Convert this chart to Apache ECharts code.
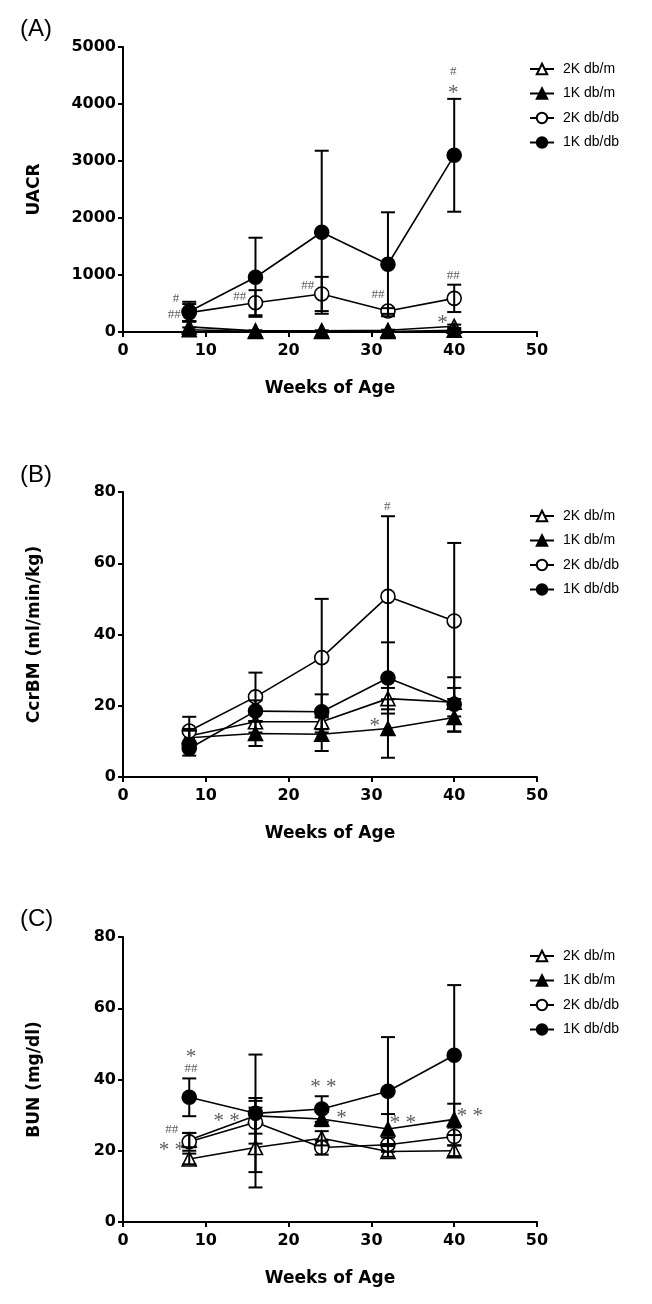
<!DOCTYPE html>
<html><head><meta charset="utf-8">
<script src="https://cdn.jsdelivr.net/npm/echarts@6/dist/echarts.min.js"></script>
<style>html,body{margin:0;padding:0;background:#fff}#c{width:652px;height:1304px}</style>
</head><body><div id="c"></div>
<script>
// ---------- data ----------
const weeks = [8, 16, 24, 32, 40];
const groupNames = ['2K db/m', '1K db/m', '2K db/db', '1K db/db'];
const xTicks = [0, 10, 20, 30, 40, 50];

// (A) UACR
const uacr_2Kdbm = [90, 20, 20, 30, 100];
const uacr_2Kdbm_sd = [90, 10, 10, 10, 30];
const uacr_1Kdbm = [40, 10, 10, 10, 30];
const uacr_1Kdbm_sd = [40, 5, 5, 5, 10];
const uacr_2Kdbdb = [340, 514, 667, 368, 590];
const uacr_2Kdbdb_sd = [150, 220, 300, 50, 240];
const uacr_1Kdbdb = [360, 960, 1750, 1188, 3100];
const uacr_1Kdbdb_sd = [170, 694, 1430, 912, 990];
const uacrTicks = [0, 1000, 2000, 3000, 4000, 5000];

// (B) CcrBM
const ccr_2Kdbm = [11.5, 15.5, 15.5, 22, 21];
const ccr_2Kdbm_sd = [2, 3, 3, 3, 4];
const ccr_1Kdbm = [11, 12.2, 12.0, 13.6, 16.7];
const ccr_1Kdbm_sd = [2, 3.5, 4.7, 8.2, 4];
const ccr_2Kdbdb = [12.9, 22.5, 33.5, 50.7, 43.8];
const ccr_2Kdbdb_sd = [4, 6.8, 16.5, 22.5, 21.9];
const ccr_1Kdbdb = [8.0, 18.5, 18.3, 27.8, 20.4];
const ccr_1Kdbdb_sd = [2, 3, 4.9, 10, 7.6];
const ccrTicks = [0, 20, 40, 60, 80];

// (C) BUN
const bun_2Kdbm = [17.7, 20.9, 23.5, 19.8, 20.0];
const bun_2Kdbm_sd = [1.5, 11.2, 2, 1.5, 1.5];
const bun_1Kdbm = [23, 29.8, 28.9, 26.1, 28.8];
const bun_1Kdbm_sd = [2, 5, 2, 4.2, 4.4];
const bun_2Kdbdb = [22.5, 28, 20.9, 21.7, 24.0];
const bun_2Kdbdb_sd = [2.5, 6, 2, 2, 2.5];
const bun_1Kdbdb = [35.0, 30.5, 31.7, 36.7, 46.8];
const bun_1Kdbdb_sd = [5.3, 16.5, 3.6, 15.2, 19.7];
const bunTicks = [0, 20, 40, 60, 80];

// significance marks: [x, y, text]
const annA = [[6.4, 579, '#'], [6.2, 298, '##'], [14.1, 614, '##'], [22.3, 807, '##'],
  [30.8, 649, '##'], [39.9, 982, '##'], [39.9, 4246, '*'], [39.9, 4561, '#'], [38.6, 211, '*']];
const annB = [[30.4, 15.4, '*'], [31.9, 75.9, '#']];
const annC = [[8.2, 47.3, '*'], [8.2, 43.2, '##'], [5.9, 25.9, '##'], [5.9, 21.2, '**'],
  [12.5, 29.4, '**'], [24.2, 38.8, '**'], [26.4, 30.1, '*'], [33.8, 28.9, '**'], [41.9, 30.8, '**']];

const panelLabels = ['(A)', '(B)', '(C)'];
const yTitles = ['UACR', 'CcrBM (ml/min/kg)', 'BUN (mg/dl)'];
const xTitle = 'Weeks of Age';

// ---------- chart ----------
const panels = [
  {vals: [uacr_2Kdbm, uacr_1Kdbm, uacr_2Kdbdb, uacr_1Kdbdb], sds: [uacr_2Kdbm_sd, uacr_1Kdbm_sd, uacr_2Kdbdb_sd, uacr_1Kdbdb_sd], ticks: uacrTicks, ann: annA},
  {vals: [ccr_2Kdbm, ccr_1Kdbm, ccr_2Kdbdb, ccr_1Kdbdb], sds: [ccr_2Kdbm_sd, ccr_1Kdbm_sd, ccr_2Kdbdb_sd, ccr_1Kdbdb_sd], ticks: ccrTicks, ann: annB},
  {vals: [bun_2Kdbm, bun_1Kdbm, bun_2Kdbdb, bun_1Kdbdb], sds: [bun_2Kdbm_sd, bun_1Kdbm_sd, bun_2Kdbdb_sd, bun_1Kdbdb_sd], ticks: bunTicks, ann: annC}
];
const gridTops = [47, 492, 937];
const gridH = 285;
const legendTops = [57, 504, 944];
const labelTops = [12, 458, 902];
const symbols = ['triangle', 'triangle', 'circle', 'circle'];
const fills = ['#fff', '#000', '#fff', '#000'];

const axisFont = {fontFamily: 'DejaVu Sans', fontWeight: 'bold', fontSize: 16, color: '#000'};
const axisLineStyle = {lineStyle: {color: '#000', width: 2}};

const option = {
  animation: false,
  backgroundColor: '#fff',
  title: panelLabels.map((t, i) => ({text: t, left: 15, top: labelTops[i],
    textStyle: {fontFamily: 'Liberation Sans', fontWeight: 'normal', fontSize: 24, color: '#000'}})),
  legend: gridTops.map((g, i) => ({
    data: groupNames, orient: 'vertical', left: 524, top: legendTops[i],
    itemWidth: 24, itemHeight: 13, itemGap: 10.5,
    textStyle: {fontFamily: 'Liberation Sans', fontSize: 14, color: '#000', padding: [0, 0, 0, 4]}
  })),
  grid: gridTops.map(t => ({left: 123, top: t, width: 414, height: gridH})),
  xAxis: gridTops.map((t, i) => ({
    type: 'value', gridIndex: i, min: xTicks[0], max: xTicks[xTicks.length - 1], interval: 10,
    axisLine: axisLineStyle, axisTick: {show: true, length: 5, lineStyle: {width: 2, color: '#000'}},
    axisLabel: Object.assign({margin: 11, formatter: v => String(v)}, axisFont), splitLine: {show: false},
    name: xTitle, nameLocation: 'middle', nameGap: 48,
    nameTextStyle: {fontFamily: 'DejaVu Sans', fontWeight: 'bold', fontSize: 17, color: '#000'}
  })),
  yAxis: panels.map((p, i) => ({
    type: 'value', gridIndex: i, min: p.ticks[0], max: p.ticks[p.ticks.length - 1],
    interval: p.ticks[1] - p.ticks[0],
    axisLine: Object.assign({show: true}, axisLineStyle), axisTick: {show: true, length: 5, lineStyle: {width: 2, color: '#000'}},
    axisLabel: Object.assign({margin: 7, formatter: v => String(v)}, axisFont), splitLine: {show: false},
    name: yTitles[i], nameLocation: 'middle', nameRotate: 90, nameGap: 80,
    nameTextStyle: {fontFamily: 'DejaVu Sans', fontWeight: 'bold', fontSize: 17, color: '#000'}
  })),
  series: []
};

panels.forEach((p, pi) => {
  // error bars
  const errData = [];
  p.vals.forEach((v, gi) => v.forEach((y, k) => errData.push([weeks[k], y - p.sds[gi][k], y + p.sds[gi][k]])));
  option.series.push({
    type: 'custom', xAxisIndex: pi, yAxisIndex: pi, z: 5, silent: true,
    data: errData,
    renderItem: (params, api) => {
      const x = api.value(0);
      const lo = api.coord([x, Math.max(api.value(1), 0)]);
      const hi = api.coord([x, api.value(2)]);
      const w = 7;
      const st = {stroke: '#000', lineWidth: 2};
      return {type: 'group', children: [
        {type: 'line', shape: {x1: lo[0], y1: lo[1], x2: hi[0], y2: hi[1]}, style: st},
        {type: 'line', shape: {x1: hi[0] - w, y1: hi[1], x2: hi[0] + w, y2: hi[1]}, style: st},
        {type: 'line', shape: {x1: lo[0] - w, y1: lo[1], x2: lo[0] + w, y2: lo[1]}, style: st}
      ]};
    }
  });
  p.vals.forEach((v, gi) => {
    option.series.push({
      type: 'line', name: groupNames[gi], xAxisIndex: pi, yAxisIndex: pi, z: 3 + gi * 0.1,
      data: v.map((y, k) => [weeks[k], y]),
      symbol: symbols[gi], symbolSize: 14,
      lineStyle: {color: '#000', width: 1.6},
      itemStyle: {color: fills[gi], borderColor: '#000', borderWidth: 1.6},
      emphasis: {disabled: true}
    });
  });
  option.series.push({
    type: 'scatter', xAxisIndex: pi, yAxisIndex: pi, z: 8, silent: true,
    symbol: 'circle', symbolSize: 1, itemStyle: {color: 'rgba(0,0,0,0)'},
    data: p.ann.map(a => {
      const star = a[2].indexOf('*') >= 0;
      return {
        value: [a[0], a[1]],
        label: {
          show: true, position: 'inside', formatter: star ? a[2].split('').join(' ') : a[2],
          fontFamily: 'Liberation Serif', color: '#333',
          fontSize: star ? 21 : 13,
          offset: star ? [0, 4] : [0, 0]
        }
      };
    })
  });
});

const chart = echarts.init(document.getElementById('c'), null, {renderer: 'canvas'});
chart.setOption(option);
</script>
</body></html>
